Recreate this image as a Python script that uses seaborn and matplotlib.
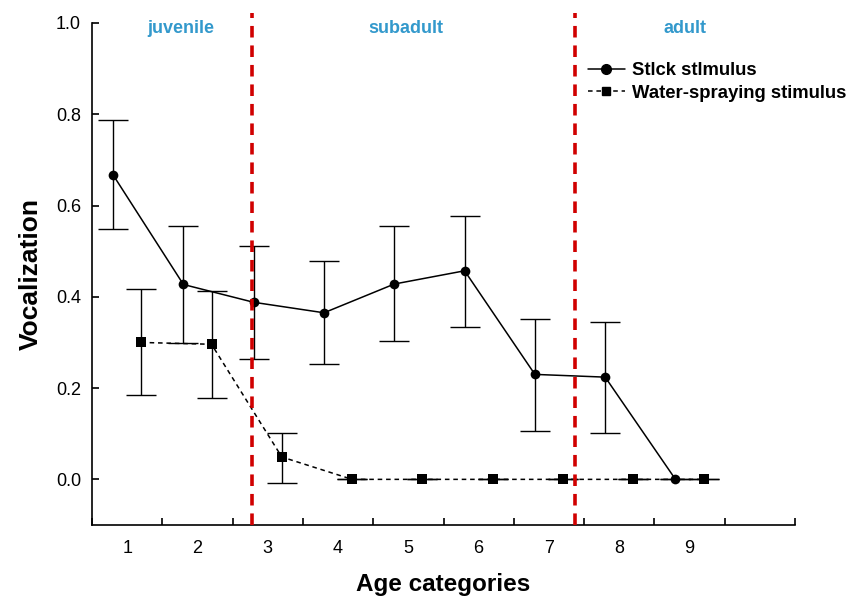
import numpy as np
import pandas as pd
import matplotlib
matplotlib.use("Agg")
import matplotlib.pyplot as plt
import seaborn as sns
from matplotlib.lines import Line2D

# data
age = [1, 2, 3, 4, 5, 6, 7, 8, 9]
stick_mean = [0.667, 0.427, 0.388, 0.365, 0.428, 0.457, 0.230, 0.224, 0.0]
stick_upper = [0.787, 0.555, 0.511, 0.478, 0.555, 0.577, 0.352, 0.344, 0.0]
stick_lower = [0.548, 0.298, 0.263, 0.252, 0.303, 0.333, 0.106, 0.102, 0.0]
water_mean = [0.300, 0.296, 0.049, 0.0, 0.0, 0.0, 0.0, 0.0, 0.0]
water_upper = [0.417, 0.412, 0.102, 0.0, 0.0, 0.0, 0.0, 0.0, 0.0]
water_lower = [0.184, 0.178, -0.007, 0.0, 0.0, 0.0, 0.0, 0.0, 0.0]
boundaries = [2.78, 7.37]
stages = ["juvenile", "subadult", "adult"]
stage_x = [1.76, 4.97, 8.93]

sns.set_style("ticks", {"text.color": "black", "axes.labelcolor": "black",
                        "xtick.color": "black", "ytick.color": "black",
                        "axes.edgecolor": "black"})
plt.rcParams['font.family'] = ['Liberation Sans', 'DejaVu Sans']

df = pd.DataFrame({
    "age": age * 2,
    "x": [a - 0.2 for a in age] + [a + 0.2 for a in age],
    "mean": stick_mean + water_mean,
    "upper": stick_upper + water_upper,
    "lower": stick_lower + water_lower,
    "stimulus": ["Stick stimulus"] * len(age) + ["Water-spraying stimulus"] * len(age),
})

fig = plt.figure(figsize=(8.6, 6), dpi=100)
ax = fig.add_axes([0.107, 0.125, 0.8174, 0.8367])

# error bars
for name, g in df.groupby("stimulus"):
    ax.errorbar(g["x"], g["mean"],
                yerr=[g["mean"] - g["lower"], g["upper"] - g["mean"]],
                fmt="none", ecolor="black", elinewidth=1.0, capsize=10.5,
                capthick=1.0, zorder=2)

sns.lineplot(data=df, x="x", y="mean", hue="stimulus", style="stimulus",
             markers={"Stick stimulus": "o", "Water-spraying stimulus": "s"},
             dashes={"Stick stimulus": "", "Water-spraying stimulus": (3, 2.5)},
             palette={"Stick stimulus": "black", "Water-spraying stimulus": "black"},
             markersize=7, markeredgewidth=0, linewidth=1.1, ax=ax, zorder=3,
             legend=False)

for b in boundaries:
    ax.plot([b, b], [-0.1, 1.022], color="#d00000", lw=2.6, ls=(0, (3.2, 2.2)),
            clip_on=False, zorder=4)

for s, sx in zip(stages, stage_x):
    ax.text(sx, 0.989, s, color="#3399cc", fontsize=13, fontweight="bold",
            ha="center", va="center")

# legend
handles = [
    Line2D([], [], color="black", marker="o", markersize=7, lw=1.1),
    Line2D([], [], color="black", marker="s", markersize=6, lw=1.1, ls=(0, (3, 2.5))),
]
ax.legend(handles, ["Stlck stlmulus", "Water-spraying stimulus"],
          loc="upper right", bbox_to_anchor=(1.097, 0.955), frameon=False,
          prop={"weight": "bold", "size": 13.3}, handlelength=2.0,
          handletextpad=0.4, labelspacing=0.3)

ax.set_xlim(0.5, 10.5)
ax.set_ylim(-0.1, 1.0)
ax.set_xticks(np.arange(1, 10))
ax.set_xticklabels([str(a) for a in age])
ax.set_xticks(np.arange(0.5, 11.0, 1.0), minor=True)
ax.tick_params(axis="x", which="major", length=0, pad=11, labelsize=13)
ax.tick_params(axis="x", which="minor", direction="in", length=5, width=1.2)
ax.set_yticks([0.0, 0.2, 0.4, 0.6, 0.8, 1.0])
ax.set_yticklabels(["0.0", "0.2", "0.4", "0.6", "0.8", "1.0"])
ax.tick_params(axis="y", direction="in", length=5, width=1.2, pad=8, labelsize=13)

for sp in ["left", "bottom"]:
    ax.spines[sp].set_linewidth(1.2)
sns.despine(ax=ax)

ax.set_xlabel("Age categories", fontsize=17.5, fontweight="bold", labelpad=11)
ax.set_ylabel("Vocalization", fontsize=19, fontweight="bold", labelpad=9)

fig.savefig("out.png", dpi=100)
